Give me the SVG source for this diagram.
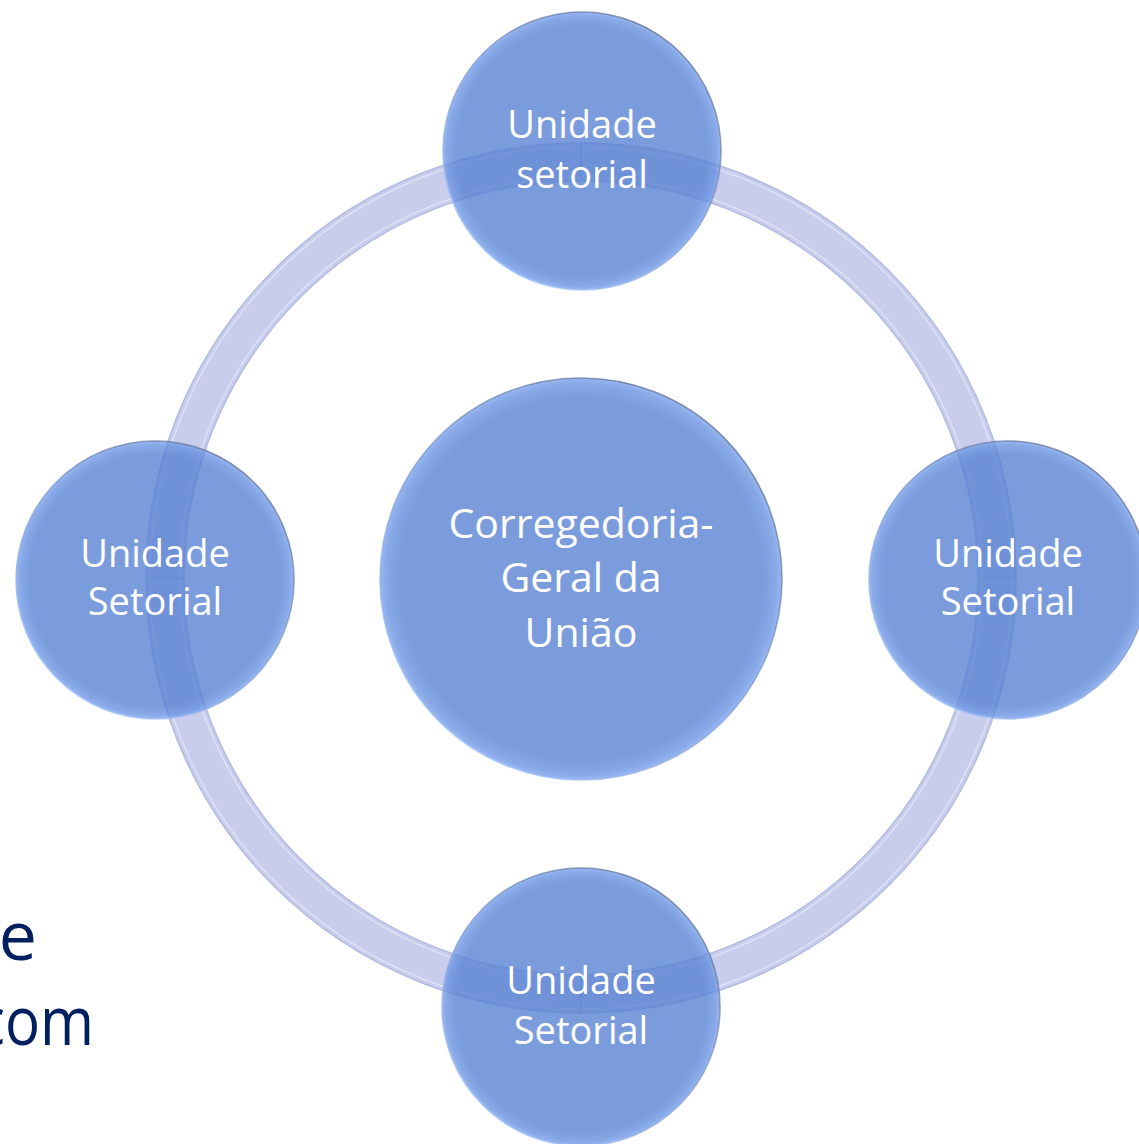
<svg xmlns="http://www.w3.org/2000/svg" width="1139" height="1144" viewBox="0 0 1139 1144">
  <defs>
    <radialGradient id="nodeFill" cx="0.5" cy="0.5" r="0.5">
      <stop offset="0" stop-color="#5680d2"/>
      <stop offset="0.9" stop-color="#5680d2"/>
      <stop offset="0.97" stop-color="#6690df"/>
      <stop offset="1" stop-color="#7aa4f0"/>
    </radialGradient>
    <linearGradient id="nodeEdge" x1="0.8" y1="0.05" x2="0.2" y2="0.95">
      <stop offset="0" stop-color="#5f6d90"/>
      <stop offset="0.45" stop-color="#8097c8"/>
      <stop offset="1" stop-color="#a9c8ff"/>
    </linearGradient>
    <style>
      .ring { fill: none; stroke: #c8cdec; stroke-width: 38; }
      .ringEdge { fill: none; stroke: #b3bbe0; stroke-width: 1.5; }
      .ringHi { fill: none; stroke: #dde1f5; stroke-width: 1.5; }
      .seam { stroke: #8fa8e4; stroke-width: 1.2; }
      .node { fill: url(#nodeFill); fill-opacity: 0.78; stroke: url(#nodeEdge); stroke-width: 1.6; stroke-opacity: 0.75; }
      .lbl { font-family: "Open Sans", "Noto Sans", sans-serif; fill: #ffffff; text-anchor: middle; }
      .sm { font-size: 38px; }
      .lg { font-size: 41px; }
      .side { font-family: "Open Sans", "Noto Sans", sans-serif; fill: #002060; font-size: 68px; }
    </style>
  </defs>
  <rect x="0" y="0" width="1139" height="1144" fill="#ffffff"/>

  <g id="connectors">
    <circle class="ring" cx="581" cy="578" r="416"/>
    <circle class="ringEdge" cx="581" cy="578" r="435"/>
    <circle class="ringEdge" cx="581" cy="578" r="397"/>
    <circle class="ringHi" cx="581" cy="578" r="431"/>
    <circle class="ringHi" cx="581" cy="578" r="401"/>
    <line class="seam" x1="581" y1="143" x2="581" y2="181"/>
    <line class="seam" x1="146" y1="578" x2="184" y2="578"/>
    <line class="seam" x1="978" y1="578" x2="1016" y2="578"/>
    <line class="seam" x1="581" y1="975" x2="581" y2="1013"/>
  </g>

  <g id="text-left">
    <text class="side" x="37" y="960" text-anchor="end">e</text>
    <text class="side" x="-23" y="1045" textLength="117" lengthAdjust="spacingAndGlyphs">com</text>
  </g>

  <g id="node-center">
    <circle class="node" cx="581" cy="579" r="201"/>
    <text class="lbl lg" x="581" y="538">Corregedoria-</text>
    <text class="lbl lg" x="581" y="592">Geral da</text>
    <text class="lbl lg" x="581" y="647">União</text>
  </g>

  <g id="node-top">
    <circle class="node" cx="582" cy="151" r="139"/>
    <text class="lbl sm" x="582" y="138">Unidade</text>
    <text class="lbl sm" x="582" y="188">setorial</text>
  </g>

  <g id="node-left">
    <circle class="node" cx="155" cy="580" r="139"/>
    <text class="lbl sm" x="155" y="567">Unidade</text>
    <text class="lbl sm" x="155" y="615">Setorial</text>
  </g>

  <g id="node-right">
    <circle class="node" cx="1008" cy="580" r="139"/>
    <text class="lbl sm" x="1008" y="567">Unidade</text>
    <text class="lbl sm" x="1008" y="615">Setorial</text>
  </g>

  <g id="node-bottom">
    <circle class="node" cx="581" cy="1007" r="139"/>
    <text class="lbl sm" x="581" y="994">Unidade</text>
    <text class="lbl sm" x="581" y="1044">Setorial</text>
  </g>
</svg>
